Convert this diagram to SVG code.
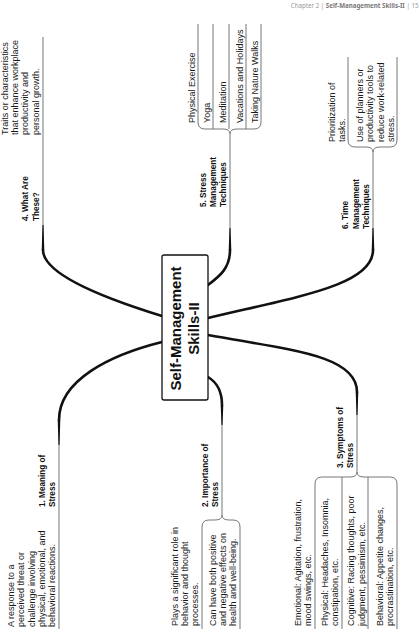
<svg xmlns="http://www.w3.org/2000/svg" width="419" height="640" viewBox="0 0 419 640">
<style>
.d{font-family:"Liberation Sans",Arial,sans-serif;font-size:9px;fill:#1a1a1a}
.l{font-family:"Liberation Sans",Arial,sans-serif;font-size:8.2px;font-weight:bold;fill:#111}
.c{font-family:"Liberation Sans",Arial,sans-serif;font-size:15px;font-weight:bold;fill:#111}
.br{fill:none;stroke:#111;stroke-width:2.6;stroke-linecap:round}
.tp{fill:#111}
.ln{fill:none;stroke:#777;stroke-width:1}
.hd{font-family:"Noto Sans","Open Sans",sans-serif;font-size:6.2px;fill:#9a9a9a}
</style>
<rect width="419" height="640" fill="#fff"/>
<text class="hd" x="418.5" y="8" text-anchor="end">Chapter 2 | <tspan font-weight="bold" fill="#777">Self-Management Skills-II</tspan> | 15</text>

<g id="connectors">
  <path class="ln" d="M43,250V37"/>
  <path class="ln" d="M59,420V629"/>
  <path class="ln" d="M222,405V515"/>
  <path class="ln" d="M357,392V472"/>
  <path class="ln" d="M230,250V134"/>
  <path class="ln" d="M373,250V152"/>
  <path class="br" d="M162,316 C110,300 43,275 43,250"/>
  <path class="br" d="M162,342 C110,355 59,380 59,420"/>
  <path class="br" d="M208,377 C218,383 222,392 222,405"/>
  <path class="br" d="M208,335 C290,350 357,355 357,392"/>
  <path class="br" d="M208,285 C220,276 230,268 230,250"/>
  <path class="br" d="M208,318 C300,296 373,285 373,250"/>
  <polygon class="tp" points="41.7,250 44.3,250 43.5,225 42.5,225"/>
  <polygon class="tp" points="57.7,420 60.3,420 59.5,445 58.5,445"/>
  <polygon class="tp" points="220.7,405 223.3,405 222.5,425 221.5,425"/>
  <polygon class="tp" points="355.7,392 358.3,392 357.5,415 356.5,415"/>
  <polygon class="tp" points="228.7,250 231.3,250 230.5,228 229.5,228"/>
  <polygon class="tp" points="371.7,250 374.3,250 373.5,228 372.5,228"/>
  <path class="ln" d="M198,122 Q198,129 205,129 L223,129 Q230,129 230,134 Q230,129 237,129 L254,129 Q261,129 261,122"/>
  <path class="ln" d="M198,122V24 M261,122V24 M213,129V24 M229,129V24 M246,129V24"/>
  <path class="ln" d="M348,140 Q348,147 355,147 L366,147 Q373,147 373,152 Q373,147 380,147 L390,147 Q397,147 397,140"/>
  <path class="ln" d="M348,140V57 M397,140V57"/>
  <path class="ln" d="M202,527 Q202,520 209,520 L215,520 Q222,520 222,515 Q222,520 229,520 L233,520 Q240,520 240,527"/>
  <path class="ln" d="M202,527V629 M240,527V629"/>
  <path class="ln" d="M315,484 Q315,477 322,477 L350,477 Q357,477 357,472 Q357,477 364,477 L390,477 Q397,477 397,484"/>
  <path class="ln" d="M315,484V629 M397,484V629 M342,477V629 M368,477V629"/>
</g>

<g id="center">
  <rect x="162" y="255" width="46" height="145" rx="2" fill="#fff" stroke="#111" stroke-width="1.3"/>
  <text class="c" text-anchor="middle" transform="translate(181,328.5) rotate(-90)"><tspan x="0" y="0">Self-Management</tspan><tspan x="0" y="18">Skills-II</tspan></text>
</g>

<g id="n4">
  <text class="l" transform="translate(28,221) rotate(-90)"><tspan x="0" y="0">4. What Are</tspan><tspan x="0" y="10.5">These?</tspan></text>
  <text class="d" transform="translate(8,135) rotate(-90)"><tspan x="0" y="0">Traits or characteristics</tspan><tspan x="0" y="10.2">that enhance workplace</tspan><tspan x="0" y="20.4">productivity and</tspan><tspan x="0" y="30.6">personal growth.</tspan></text>
</g>

<g id="n1">
  <text class="l" transform="translate(44.5,507) rotate(-90)"><tspan x="0" y="0">1. Meaning of</tspan><tspan x="0" y="10">Stress</tspan></text>
  <text class="d" transform="translate(14,627) rotate(-90)"><tspan x="0" y="0">A response to a</tspan><tspan x="0" y="10.3">perceived threat or</tspan><tspan x="0" y="20.6">challenge involving</tspan><tspan x="0" y="30.9">physical, emotional, and</tspan><tspan x="0" y="41.2">behavioral reactions.</tspan></text>
</g>

<g id="n2">
  <text class="l" transform="translate(207.5,507) rotate(-90)"><tspan x="0" y="0">2. Importance of</tspan><tspan x="0" y="10.5">Stress</tspan></text>
  <text class="d" transform="translate(177.5,626) rotate(-90)"><tspan x="0" y="0">Plays a significant role in</tspan><tspan x="0" y="10.3">behavior and thought</tspan><tspan x="0" y="20.6">processes.</tspan></text>
  <text class="d" transform="translate(215.5,626) rotate(-90)"><tspan x="0" y="0">Can have both positive</tspan><tspan x="0" y="10.3">and negative effects on</tspan><tspan x="0" y="20.6">health and well-being.</tspan></text>
</g>

<g id="n3">
  <text class="l" transform="translate(342.5,468) rotate(-90)"><tspan x="0" y="0">3. Symptoms of</tspan><tspan x="0" y="10">Stress</tspan></text>
  <text class="d" transform="translate(301.2,626) rotate(-90)"><tspan x="0" y="0">Emotional: Agitation, frustration,</tspan><tspan x="0" y="10.3">mood swings, etc.</tspan></text>
  <text class="d" transform="translate(328,626) rotate(-90)"><tspan x="0" y="0">Physical: Headaches, Insomnia,</tspan><tspan x="0" y="10.3">constipation, etc.</tspan></text>
  <text class="d" transform="translate(354.4,626) rotate(-90)"><tspan x="0" y="0">Cognitive: Racing thoughts, poor</tspan><tspan x="0" y="10.3">judgment, pessimism, etc.</tspan></text>
  <text class="d" transform="translate(382.8,626) rotate(-90)"><tspan x="0" y="0">Behavioral: Appetite changes,</tspan><tspan x="0" y="10.3">procrastination, etc.</tspan></text>
</g>

<g id="n5">
  <text class="l" transform="translate(206,207) rotate(-90)"><tspan x="0" y="0">5. Stress</tspan><tspan x="0" y="10.2">Management</tspan><tspan x="0" y="20.4">Techniques</tspan></text>
  <text class="d" transform="translate(195,123) rotate(-90)">Physical Exercise</text>
  <text class="d" transform="translate(210,123) rotate(-90)">Yoga</text>
  <text class="d" transform="translate(226,123) rotate(-90)">Meditation</text>
  <text class="d" transform="translate(243,123) rotate(-90)">Vacations and Holidays</text>
  <text class="d" transform="translate(258,123) rotate(-90)">Taking Nature Walks</text>
</g>

<g id="n6">
  <text class="l" transform="translate(348,229) rotate(-90)"><tspan x="0" y="0">6. Time</tspan><tspan x="0" y="10.5">Management</tspan><tspan x="0" y="21">Techniques</tspan></text>
  <text class="d" transform="translate(335,142) rotate(-90)"><tspan x="0" y="0">Prioritization of</tspan><tspan x="0" y="10">tasks.</tspan></text>
  <text class="d" transform="translate(363,142) rotate(-90)"><tspan x="0" y="0">Use of planners or</tspan><tspan x="0" y="10.3">productivity tools to</tspan><tspan x="0" y="20.6">reduce work-related</tspan><tspan x="0" y="30.9">stress.</tspan></text>
</g>
</svg>
